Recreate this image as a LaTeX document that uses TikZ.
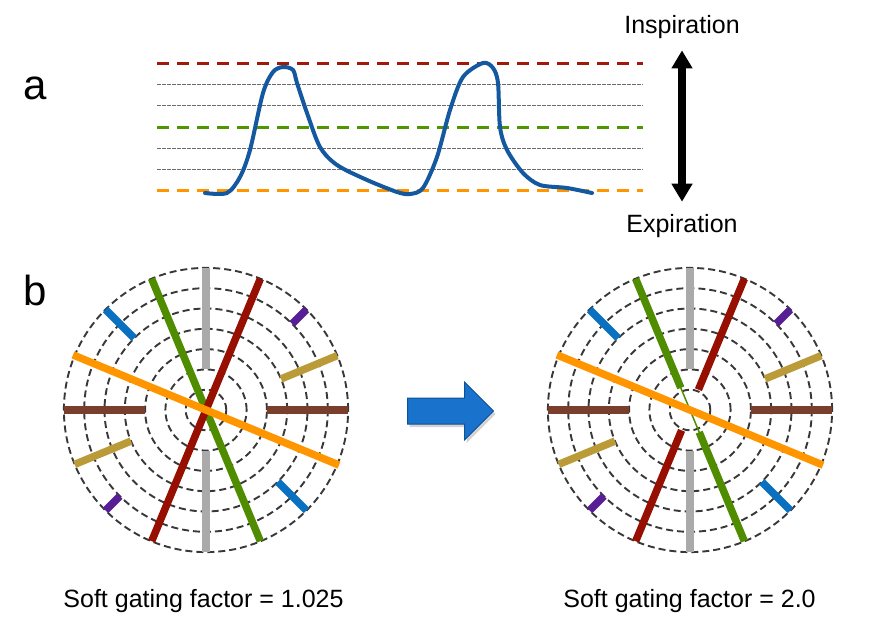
\documentclass[tikz,border=0pt]{standalone}
\usepackage{fontspec}
\setmainfont{Liberation Sans}
\usetikzlibrary{arrows.meta, shapes.arrows, shadows, positioning}

\definecolor{levelred}{RGB}{160,25,10}
\definecolor{levelgreen}{RGB}{80,150,0}
\definecolor{levelorange}{RGB}{255,150,0}
\definecolor{tracecol}{RGB}{20,88,160}
\definecolor{bargray}{RGB}{170,170,170}
\definecolor{barbrown}{RGB}{122,62,45}
\definecolor{barolive}{RGB}{186,155,55}
\definecolor{barpurple}{RGB}{88,30,150}
\definecolor{barred}{RGB}{150,15,0}
\definecolor{bargreen}{RGB}{80,140,0}
\definecolor{barblue}{RGB}{10,112,192}
\definecolor{barorange}{RGB}{255,150,0}
\definecolor{arrowblue}{RGB}{25,115,205}
\definecolor{arrowedge}{RGB}{15,80,150}

\newcommand{\ringstep}{20.3}

\begin{document}
\begin{tikzpicture}[
    x=1pt, y=1pt,
    font=\fontsize{25}{30}\selectfont,
    panellabel/.style={font=\fontsize{42}{50}\selectfont, inner sep=0pt, anchor=base},
    txt/.style={inner sep=0pt, anchor=base},
    levelcol/.style={line width=3pt, dash pattern=on 12pt off 8pt},
    levelthin/.style={line width=1pt, gray!85!black, dash pattern=on 3.5pt off 1.5pt},
    trace/.style={line width=4pt, tracecol, line cap=round, line join=round},
    ring/.style={line width=1.9pt, black!78, dash pattern=on 7pt off 4pt},
    bar/.style={line width=7.5pt},
    thinbar/.style={line width=1.5pt},
    bigarrow/.style={single arrow, draw=arrowedge, fill=arrowblue, line width=1pt,
        inner xsep=0pt, inner ysep=12.5pt, single arrow head extend=16pt,
        single arrow tip angle=90, minimum height=86pt,
        drop shadow={opacity=0.35, shadow xshift=2pt, shadow yshift=-3pt}}
]
\useasboundingbox (0,0) rectangle (883,627);

% --- Panel labels ---
\node[panellabel] (lblA) at (35,527) {a};
\node[panellabel] (lblB) at (35,321) {b};

% --- Panel a: respiratory levels ---
\draw[levelcol, levelred] (157,563) -- (643,563);
\draw[levelcol, levelgreen] (157,499) -- (643,499);
\draw[levelcol, levelorange] (157,436) -- (643,436);
\foreach \yy in {542,521,478,457}
    \draw[levelthin] (157,\yy) -- (643,\yy);

% breathing trace
\draw[trace] plot[smooth, tension=0.5] coordinates {
    (205,434) (227,434) (240,450) (250,477) (263,534) (273,555) (283,560)
    (293,557) (297,544) (307,514) (320,480) (337,462) (367,447) (397,435)
    (410,433) (423,439) (437,470) (450,517) (463,550) (483,564) (493,559)
    (498,544) (500,500) (507,477) (523,454) (540,442) (567,439) (592,434)};

% inspiration / expiration
\node[txt] (insp) at (682,593) {Inspiration};
\node[txt] (expi) at (682,394) {Expiration};
\draw[line width=8pt, {Triangle[length=18pt, width=20pt]}-{Triangle[length=18pt, width=20pt]},
    shorten <=11pt, shorten >=13pt] (insp.south) -- (expi.north);

% --- Panel b: left disc ---
\begin{scope}[shift={(206,217)}]
    \foreach \k in {1,...,7}
        \draw[ring] (0,0) circle ({\k*\ringstep});
    \foreach \ang/\kin/\col in {90/2/bargray, 0/3/barbrown, 22.5/4/barolive, 135/5/barblue, 45/6/barpurple} {
        \draw[bar, \col] (\ang:{\kin*\ringstep}) -- (\ang:{7*\ringstep});
        \draw[bar, \col] ({\ang+180}:{\kin*\ringstep}) -- ({\ang+180}:{7*\ringstep});
    }
    \draw[bar, bargreen] (112.5:142) -- (292.5:142);
    \draw[bar, barred] (67.5:142) -- (247.5:142);
    \draw[bar, barorange] (157.5:144) -- (337.5:144);
\end{scope}
\node[txt] (capL) at (203.5,20) {Soft gating factor = 1.025};

% --- Transition arrow ---
\node[bigarrow, anchor=tail] (trans) at (407,216) {};

% --- Panel b: right disc ---
\begin{scope}[shift={(690,217)}]
    \foreach \k in {1,...,7}
        \draw[ring] (0,0) circle ({\k*\ringstep});
    \foreach \ang/\kin/\col in {90/2/bargray, 0/3/barbrown, 22.5/4/barolive, 135/5/barblue, 45/6/barpurple} {
        \draw[bar, \col] (\ang:{\kin*\ringstep}) -- (\ang:{7*\ringstep});
        \draw[bar, \col] ({\ang+180}:{\kin*\ringstep}) -- ({\ang+180}:{7*\ringstep});
    }
    \draw[thinbar, bargreen] (112.5:142) -- (292.5:142);
    \draw[bar, bargreen] (112.5:24) -- (112.5:142);
    \draw[bar, bargreen] (292.5:24) -- (292.5:142);
    \draw[bar, barred] (67.5:22) -- (67.5:142);
    \draw[bar, barred] (247.5:22) -- (247.5:142);
    \draw[bar, barorange] (157.5:144) -- (337.5:144);
\end{scope}
\node[txt] (capR) at (689.5,20) {Soft gating factor = 2.0};

\end{tikzpicture}
\end{document}
